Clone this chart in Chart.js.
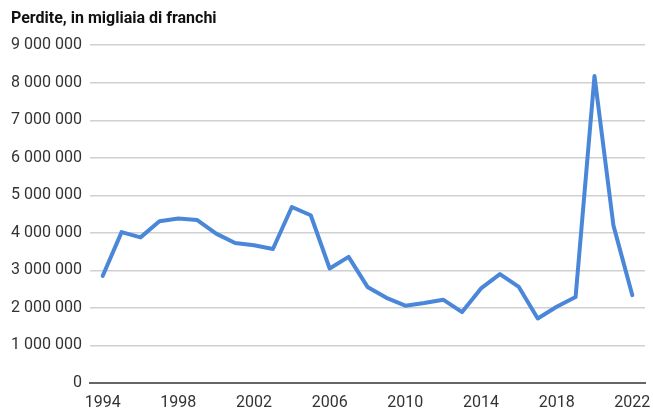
<!DOCTYPE html>
<html>
<head>
<meta charset="utf-8">
<script src="https://cdn.jsdelivr.net/npm/chart.js@4"></script>
<style>
  html, body { margin: 0; padding: 0; background: #fff; }
  #wrap { width: 653px; height: 412px; }
</style>
</head>
<body>
<div id="wrap"><canvas id="chart"></canvas></div>
<script>
// Perdite annue (migliaia di franchi), 1994-2022
const years = [1994, 1995, 1996, 1997, 1998, 1999, 2000, 2001, 2002, 2003,
  2004, 2005, 2006, 2007, 2008, 2009, 2010, 2011, 2012, 2013,
  2014, 2015, 2016, 2017, 2018, 2019, 2020, 2021, 2022];
const losses = [2850000, 4020000, 3880000, 4310000, 4380000, 4340000, 3980000, 3730000, 3670000, 3570000,
  4690000, 4470000, 3050000, 3360000, 2560000, 2270000, 2060000, 2130000, 2220000, 1890000,
  2520000, 2900000, 2560000, 1720000, 2030000, 2290000, 8180000, 4200000, 2340000];
const xTickYears = [1994, 1998, 2002, 2006, 2010, 2014, 2018, 2022];
const yTicks = [0, 1000000, 2000000, 3000000, 4000000, 5000000, 6000000, 7000000, 8000000, 9000000];

const FONT = 'Roboto, "Noto Sans", sans-serif';

function formatNumber(v) {
  return String(v).replace(/\B(?=(\d{3})+(?!\d))/g, ' ');
}

const ctx = document.getElementById('chart').getContext('2d');

new Chart(ctx, {
  type: 'line',
  data: {
    datasets: [{
      label: 'Perdite',
      data: years.map((y, i) => ({ x: y, y: losses[i] })),
      borderColor: '#4a87d9',
      borderWidth: 4,
      borderJoinStyle: 'round',
      borderCapStyle: 'round',
      pointRadius: 0,
      tension: 0,
      fill: false
    }]
  },
  options: {
    responsive: true,
    maintainAspectRatio: false,
    animation: false,
    layout: {
      padding: { left: 11, right: 8, top: 0, bottom: 0 }
    },
    plugins: {
      legend: { display: false },
      tooltip: { enabled: false },
      title: {
        display: true,
        text: 'Perdite, in migliaia di franchi',
        align: 'start',
        color: '#111',
        font: { family: FONT, size: 16, weight: 'bold' },
        padding: { top: 9, bottom: 17 }
      }
    },
    scales: {
      x: {
        type: 'linear',
        min: 1993.33,
        max: 2022.67,
        afterBuildTicks: function(scale) {
          scale.ticks = xTickYears.map(v => ({ value: v }));
        },
        afterFit: function(scale) {
          scale.height = 29;
          scale.paddingLeft = 0;
          scale.paddingRight = 0;
        },
        ticks: {
          color: '#333',
          font: { family: FONT, size: 16 },
          padding: 10,
          maxRotation: 0,
          autoSkip: false,
          callback: function(value) {
            return String(value);
          }
        },
        grid: { display: false, drawTicks: false },
        border: { display: true, color: '#666', width: 2 }
      },
      y: {
        min: 0,
        max: 9000000,
        afterBuildTicks: function(scale) {
          scale.ticks = yTicks.map(v => ({ value: v }));
        },
        afterFit: function(scale) {
          scale.width = 79;
        },
        ticks: {
          color: '#333',
          font: { family: FONT, size: 16 },
          padding: 8,
          callback: function(value) {
            return formatNumber(value);
          }
        },
        grid: {
          drawTicks: false,
          color: function(c) {
            return c.tick && c.tick.value === 0 ? 'rgba(0,0,0,0)' : '#d0d0d0';
          },
          lineWidth: 1.5
        },
        border: { display: false }
      }
    }
  }
});
</script>
</body>
</html>
